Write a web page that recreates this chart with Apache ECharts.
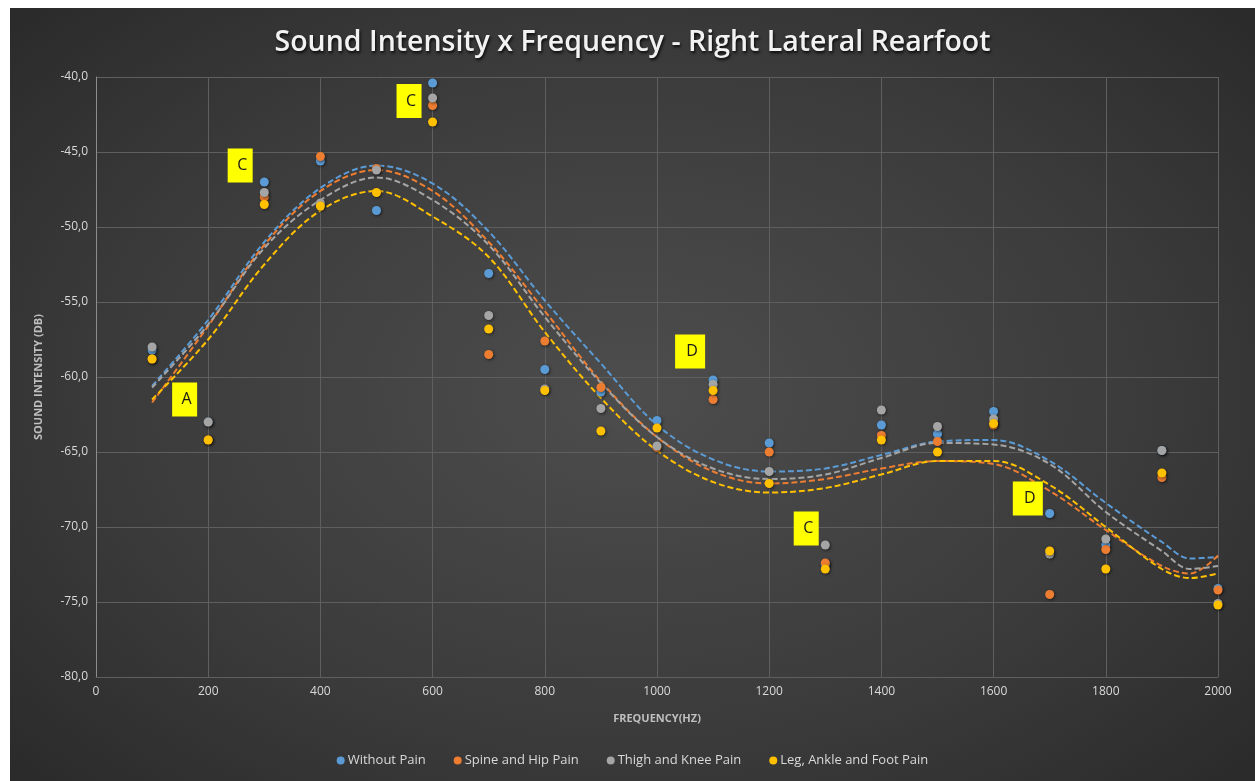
<!DOCTYPE html>
<html>
<head>
<meta charset="utf-8">
<script src="https://cdn.jsdelivr.net/npm/echarts@6/dist/echarts.min.js"></script>
<style>
  html, body { margin: 0; padding: 0; background: #ffffff; width: 1255px; height: 781px; overflow: hidden; }
  #chart {
    position: absolute; left: 10px; top: 8px; width: 1245px; height: 773px;
    background: radial-gradient(ellipse 75% 80% at 50% 50%, #4d4d4d 0%, #3b3b3b 55%, #262626 100%);
  }
</style>
</head>
<body>
<div id="chart"></div>
<script>
// Measured frequencies (Hz)
const freqs = [100, 200, 300, 400, 500, 600, 700, 800, 900, 1000, 1100, 1200, 1300, 1400, 1500, 1600, 1700, 1800, 1900, 2000];

// Sound intensity (dB) per group
const withoutPain   = [-58.2, -63.0, -47.0, -45.6, -48.9, -40.4, -53.1, -59.5, -61.0, -62.9, -60.2, -64.4, -72.5, -63.2, -63.8, -62.3, -69.1, -71.2, -64.9, -74.1];
const spineHipPain  = [-58.8, -64.2, -48.0, -45.3, -46.1, -41.9, -58.5, -57.6, -60.7, -64.7, -61.5, -65.0, -72.4, -63.9, -64.3, -63.2, -74.5, -71.5, -66.7, -74.2];
const thighKneePain = [-58.0, -63.0, -47.7, -48.4, -46.2, -41.4, -55.9, -60.8, -62.1, -64.6, -60.5, -66.3, -71.2, -62.2, -63.3, -62.8, -71.8, -70.8, -64.9, -75.1];
const legAnkleFootPain = [-58.8, -64.2, -48.5, -48.6, -47.7, -43.0, -56.8, -60.9, -63.6, -63.4, -60.9, -67.1, -72.8, -64.2, -65.0, -63.1, -71.6, -72.8, -66.4, -75.2];

// Polynomial trend curves, sampled along frequency
const trendFreqs = [100, 200, 300, 400, 500, 600, 700, 800, 900, 1000, 1100, 1200, 1300, 1400, 1500, 1600, 1700, 1800, 1900, 1950, 2000];
const trendWithout = [-60.6, -56.2, -51.0, -47.4, -45.9, -47.1, -50.3, -54.9, -59.1, -63.2, -65.5, -66.3, -66.1, -65.2, -64.3, -64.2, -65.6, -68.4, -71.0, -72.1, -72.0];
const trendSpine   = [-61.7, -56.6, -51.2, -47.6, -46.2, -47.6, -51.0, -55.6, -60.3, -64.0, -66.3, -67.1, -66.8, -66.1, -65.6, -65.8, -67.6, -70.2, -72.6, -73.1, -71.9];
const trendThigh   = [-60.7, -56.5, -51.4, -48.2, -46.7, -48.2, -51.2, -56.0, -60.4, -64.0, -66.1, -66.8, -66.5, -65.4, -64.4, -64.5, -65.8, -69.0, -71.6, -72.8, -72.6];
const trendLeg     = [-61.5, -57.5, -52.5, -48.9, -47.6, -49.3, -52.0, -57.0, -61.4, -64.9, -67.0, -67.7, -67.4, -66.5, -65.6, -65.6, -67.2, -70.0, -72.8, -73.4, -73.1];

// Callout tags (letter, frequency, intensity)
const noteText  = ['A', 'C', 'C', 'D', 'C', 'D'];
const noteFreq  = [158, 257, 558, 1059, 1266, 1661];
const noteLevel = [-61.5, -45.9, -41.6, -58.3, -70.1, -68.1];

// Axis ticks
const xTicks = { min: 0, max: 2000, step: 200 };
const yTicks = { min: -80, max: -40, step: 5 };

const groupNames = ['Without Pain', 'Spine and Hip Pain', 'Thigh and Knee Pain', 'Leg, Ankle and Foot Pain'];
const groupValues = [withoutPain, spineHipPain, thighKneePain, legAnkleFootPain];
const trendValues = [trendWithout, trendSpine, trendThigh, trendLeg];
const colors = ['#5b9bd5', '#ed7d31', '#a5a5a5', '#ffc000'];

const pair = (xs, ys) => xs.map((x, i) => [x, ys[i]]);
const font = 'Open Sans, Noto Sans, sans-serif';

const series = [];
trendValues.forEach((vals, i) => {
  series.push({
    name: groupNames[i] + ' trend',
    type: 'line',
    data: pair(trendFreqs, vals),
    smooth: 0.35,
    showSymbol: false,
    silent: true,
    z: 2,
    lineStyle: { color: colors[i], width: 2, type: [6, 3], opacity: 1 }
  });
});
groupValues.forEach((vals, i) => {
  series.push({
    name: groupNames[i],
    type: 'scatter',
    data: pair(freqs, vals),
    symbol: 'circle',
    symbolSize: 9,
    z: 3 + i,
    itemStyle: {
      color: colors[i], opacity: 1,
      shadowColor: 'rgba(0,0,0,0.55)', shadowBlur: 3, shadowOffsetX: 1, shadowOffsetY: 1
    }
  });
});
series.push({
  name: 'notes',
  type: 'scatter',
  data: noteFreq.map((f, i) => [f, noteLevel[i], noteText[i]]),
  symbol: 'rect',
  symbolSize: (v) => (v[2] === 'D' ? [30, 34] : [25, 34]),
  z: 10,
  silent: true,
  itemStyle: { color: '#ffff00', opacity: 1 },
  label: {
    show: true, position: 'inside', formatter: (p) => p.data[2],
    color: '#1a1a1a', fontSize: 16, fontFamily: font, offset: [2, 0]
  }
});

const chart = echarts.init(document.getElementById('chart'), null, { renderer: 'canvas' });
chart.setOption({
  backgroundColor: 'transparent',
  animation: false,
  title: {
    text: 'Sound Intensity x Frequency - Right Lateral Rearfoot',
    left: 'center', top: 15,
    textStyle: {
      color: '#f2f2f2', fontSize: 28.5, fontWeight: 600, fontFamily: font,
      textShadowColor: 'rgba(0,0,0,0.85)', textShadowBlur: 3, textShadowOffsetX: 1, textShadowOffsetY: 2
    }
  },
  legend: {
    data: groupNames,
    bottom: 9, left: 'center',
    icon: 'circle', itemWidth: 8, itemHeight: 8, itemGap: 28,
    textStyle: { color: '#d9d9d9', fontSize: 13, fontFamily: font, padding: [0, 0, 0, -2] }
  },
  grid: { left: 86, right: 37, top: 69, bottom: 104, containLabel: false },
  xAxis: {
    type: 'value', min: xTicks.min, max: xTicks.max, interval: xTicks.step,
    name: 'FREQUENCY(HZ)', nameLocation: 'middle', nameGap: 36,
    nameTextStyle: { color: '#bfbfbf', fontSize: 11, fontWeight: 'bold', fontFamily: font },
    axisLine: { show: true, lineStyle: { color: '#5f5f5f' } },
    axisTick: { show: false },
    axisLabel: { color: '#d9d9d9', fontSize: 12, fontFamily: font, margin: 9,
      formatter: (v) => String(v) },
    splitLine: { show: true, lineStyle: { color: '#5f5f5f', width: 1 } }
  },
  yAxis: {
    type: 'value', min: yTicks.min, max: yTicks.max, interval: yTicks.step,
    name: 'SOUND INTENSITY (DB)', nameLocation: 'middle', nameGap: 52, nameRotate: 90,
    nameTextStyle: { color: '#bfbfbf', fontSize: 11, fontWeight: 'bold', fontFamily: font },
    axisLine: { show: true, lineStyle: { color: '#8c8c8c' } },
    axisTick: { show: false },
    axisLabel: { color: '#d9d9d9', fontSize: 12, fontFamily: font, margin: 8,
      formatter: (v) => v.toFixed(1).replace('.', ',') },
    splitLine: { show: true, lineStyle: { color: '#5f5f5f', width: 1 } }
  },
  series: series
});
</script>
</body>
</html>
